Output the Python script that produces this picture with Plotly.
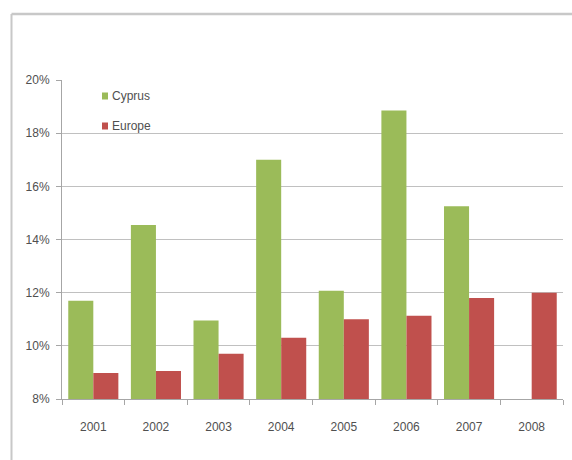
import plotly.graph_objects as go

years = ["2001", "2002", "2003", "2004", "2005", "2006", "2007", "2008"]
cyprus = [11.7, 14.55, 10.95, 17.0, 12.07, 18.85, 15.25, None]
europe = [8.98, 9.05, 9.7, 10.3, 11.0, 11.13, 11.8, 12.0]
y_ticks = [8, 10, 12, 14, 16, 18, 20]

GREEN = "#9BBB59"
RED = "#C0504D"
FONT = dict(family="Liberation Sans, Arial, sans-serif", size=12, color="#505050")

fig = go.Figure()
fig.add_trace(go.Bar(x=years, y=cyprus, name="Cyprus", marker=dict(color=GREEN, line=dict(width=0))))
fig.add_trace(go.Bar(x=years, y=europe, name="Europe", marker=dict(color=RED, line=dict(width=0))))

W, H = 572, 460
L, R, T, B = 62, 9, 80, 61
pw, ph = W - L - R, H - T - B

def px2paper(x, y):
    return (x - L) / pw, 1 - (y - T) / ph

# outer frame (top and left edges visible)
fx0, fy0 = px2paper(11.5, 14)
fx1, fy1 = px2paper(572, 460)
fig.add_shape(type="line", xref="paper", yref="paper", x0=fx0, y0=fy0, x1=fx1, y1=fy0,
              line=dict(color="#c8c8c8", width=2.5), layer="below")
fig.add_shape(type="line", xref="paper", yref="paper", x0=fx0, y0=fy0, x1=fx0, y1=fy1,
              line=dict(color="#c8c8c8", width=2), layer="below")

# legend
for name, col, cy in [("Cyprus", GREEN, 96), ("Europe", RED, 126)]:
    ax0, ay0 = px2paper(102, cy - 3.5)
    ax1, ay1 = px2paper(108, cy + 3.5)
    fig.add_shape(type="rect", xref="paper", yref="paper", x0=ax0, x1=ax1, y0=ay1, y1=ay0,
                  line=dict(width=0), fillcolor=col)
    tx, ty = px2paper(110, cy)
    fig.add_annotation(text=name, xref="paper", yref="paper", x=tx, y=ty, xanchor="left",
                       yanchor="middle", showarrow=False, font=FONT)

fig.update_layout(
    width=W, height=H,
    margin=dict(l=L, r=R, t=T, b=B),
    paper_bgcolor="white", plot_bgcolor="white",
    barmode="group", bargap=0.2, bargroupgap=0,
    showlegend=False,
    font=FONT,
)
fig.update_xaxes(
    type="category", showgrid=False, showline=True, linecolor="#a6a6a6", linewidth=1,
    ticks="outside", tickson="boundaries", ticklen=5, tickcolor="#a6a6a6",
    tickfont=FONT, ticklabelstandoff=17,
)
fig.update_yaxes(
    range=[8, 20], tickvals=y_ticks, ticktext=[f"{v}%" for v in y_ticks],
    showgrid=True, gridcolor="#c0c0c0", gridwidth=1.3, zeroline=False,
    showline=True, linecolor="#a6a6a6", linewidth=1,
    ticks="outside", ticklen=5, tickcolor="#a6a6a6", tickfont=FONT, ticklabelstandoff=4,
)

fig.write_html("out.html")
